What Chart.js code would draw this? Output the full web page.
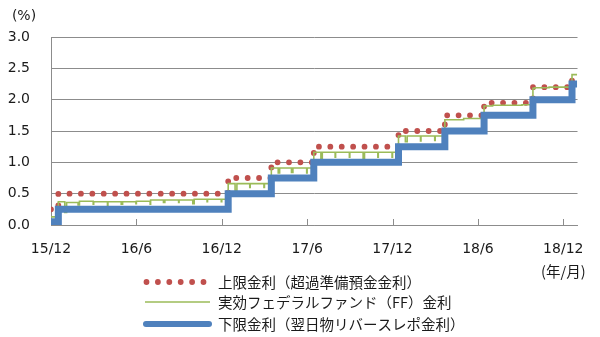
<!DOCTYPE html>
<html>
<head>
<meta charset="utf-8">
<script src="https://cdn.jsdelivr.net/npm/chart.js@4.4.1/dist/chart.umd.min.js"></script>
<style>
  html, body { margin: 0; padding: 0; background: #ffffff; }
  #c { display: block; }
</style>
</head>
<body>
<canvas id="c" width="600" height="337"></canvas>
<script>
// Axis ticks: months counted from 2015-12-01
const tickMonths = [0, 6, 12, 18, 24, 30, 36];
const tickLabels = ['15/12', '16/6', '16/12', '17/6', '17/12', '18/6', '18/12'];
const yUnitLabel = '(%)';
const xUnitLabel = '(年/月)';

const seriesNames = [
  '上限金利（超過準備預金金利）',
  '実効フェデラルファンド（FF）金利',
  '下限金利（翌日物リバースレポ金利）'
];

// Upper bound: interest on excess reserves (change dates and new levels)
const upperDates  = ['2015-12-01', '2015-12-17', '2016-12-15', '2017-03-16', '2017-06-15',
                     '2017-12-14', '2018-03-22', '2018-06-14', '2018-09-27', '2018-12-20', '2018-12-31'];
const upperValues = [0.25, 0.50, 0.75, 1.00, 1.25, 1.50, 1.75, 1.95, 2.20, 2.40, 2.40];

// Lower bound: overnight reverse repo rate
const lowerDates  = ['2015-12-01', '2015-12-17', '2016-12-15', '2017-03-16', '2017-06-15',
                     '2017-12-14', '2018-03-22', '2018-06-14', '2018-09-27', '2018-12-20', '2018-12-31'];
const lowerValues = [0.05, 0.25, 0.50, 0.75, 1.00, 1.25, 1.50, 1.75, 2.00, 2.25, 2.25];

// Effective federal funds rate, including the month-end dips
const effrDates = [
  '2015-12-01', '2015-12-17', '2015-12-31', '2016-01-04', '2016-01-29', '2016-02-01', '2016-02-29',
  '2016-03-01', '2016-03-31', '2016-04-01', '2016-04-29', '2016-05-02', '2016-05-31', '2016-06-01',
  '2016-06-30', '2016-07-01', '2016-07-29', '2016-08-01', '2016-08-31', '2016-09-01', '2016-09-30',
  '2016-10-03', '2016-10-31', '2016-11-01', '2016-11-30', '2016-12-01', '2016-12-15', '2016-12-30',
  '2017-01-03', '2017-01-31', '2017-02-01', '2017-02-28', '2017-03-01', '2017-03-16', '2017-03-31',
  '2017-04-03', '2017-04-28', '2017-05-01', '2017-05-31', '2017-06-01', '2017-06-15', '2017-06-30',
  '2017-07-03', '2017-07-31', '2017-08-01', '2017-08-31', '2017-09-01', '2017-09-29', '2017-10-02',
  '2017-10-31', '2017-11-01', '2017-11-30', '2017-12-01', '2017-12-14', '2017-12-29', '2018-01-02',
  '2018-01-31', '2018-02-01', '2018-02-28', '2018-03-01', '2018-03-22', '2018-05-01', '2018-06-14',
  '2018-07-02', '2018-09-04', '2018-09-27', '2018-10-01', '2018-11-01', '2018-12-20', '2018-12-31'
];
const effrValues = [
  0.13, 0.37, 0.20, 0.36, 0.32, 0.38, 0.33,
  0.37, 0.31, 0.37, 0.33, 0.37, 0.34, 0.38,
  0.33, 0.40, 0.36, 0.40, 0.36, 0.40, 0.34,
  0.41, 0.37, 0.41, 0.37, 0.41, 0.66, 0.55,
  0.66, 0.60, 0.66, 0.60, 0.66, 0.91, 0.83,
  0.91, 0.84, 0.91, 0.83, 0.91, 1.16, 1.06,
  1.16, 1.08, 1.16, 1.08, 1.16, 1.06, 1.16,
  1.08, 1.16, 1.08, 1.16, 1.42, 1.33, 1.42,
  1.34, 1.42, 1.35, 1.42, 1.68, 1.70, 1.90,
  1.91, 1.92, 2.18, 2.19, 2.20, 2.40, 2.40
];

// Convert 'YYYY-MM-DD' into fractional months since 2015-12-01
function toMonths(s) {
  const [y, m, d] = s.split('-').map(Number);
  const dim = new Date(y, m, 0).getDate();
  return (y - 2015) * 12 + (m - 12) + (d - 1) / dim;
}
function toPoints(dates, values) {
  return dates.map((d, i) => ({ x: toMonths(d), y: values[i] }));
}

const RED = '#C0504D', GREEN = '#9BBB59', BLUE = '#4F81BD', GRID = '#8C8C8C', TEXT = '#1a1a1a';
const NUM_FONT = '"DejaVu Sans", Verdana, sans-serif';
const JP_FONT = '"Noto Sans CJK JP", sans-serif';

const decor = {
  id: 'decor',
  beforeDatasetsDraw(chart) {
    // inward tick marks on the date axis
    const { ctx, chartArea } = chart;
    const xs = chart.scales.x;
    ctx.save();
    ctx.strokeStyle = GRID;
    ctx.lineWidth = 1;
    tickMonths.forEach(v => {
      const px = Math.round(xs.getPixelForValue(v)) + 0.5;
      ctx.beginPath();
      ctx.moveTo(px, chartArea.bottom - 6);
      ctx.lineTo(px, chartArea.bottom);
      ctx.stroke();
    });
    ctx.restore();
  },
  afterDraw(chart) {
    const { ctx } = chart;
    const xs = chart.scales.x;
    ctx.save();
    ctx.fillStyle = TEXT;
    ctx.textBaseline = 'middle';
    ctx.textAlign = 'center';
    ctx.font = '14px ' + NUM_FONT;
    ctx.fillText(yUnitLabel, 24, 16);
    ctx.font = '14.5px ' + JP_FONT;
    ctx.fillText(xUnitLabel, xs.getPixelForValue(36), 271);

    // legend, one series per row
    const rows = [282, 302, 324];
    chart.data.datasets.forEach((ds, i) => {
      const y = rows[i];
      ctx.save();
      ctx.strokeStyle = ds.borderColor;
      ctx.lineWidth = ds.legendWidth;
      ctx.lineCap = ds.legendCap;
      ctx.setLineDash(ds.borderDash || []);
      ctx.beginPath();
      ctx.moveTo(ds.legendFrom, y);
      ctx.lineTo(ds.legendTo, y);
      ctx.stroke();
      ctx.restore();
      ctx.textAlign = 'left';
      ctx.font = '14.5px ' + JP_FONT;
      ctx.fillText(ds.label, 218, y);
    });
    ctx.restore();
  }
};

new Chart(document.getElementById('c'), {
  type: 'line',
  data: {
    datasets: [
      {
        label: seriesNames[0],
        data: toPoints(upperDates, upperValues),
        borderColor: RED,
        borderWidth: 5.8,
        borderDash: [0, 11.4],
        borderCapStyle: 'round',
        borderJoinStyle: 'round',
        stepped: true,
        pointRadius: 0,
        order: 3,
        legendWidth: 5.8, legendCap: 'round', legendFrom: 146.5, legendTo: 207
      },
      {
        label: seriesNames[1],
        data: toPoints(effrDates, effrValues),
        borderColor: GREEN,
        borderWidth: 1.6,
        stepped: true,
        pointRadius: 0,
        order: 2,
        legendWidth: 1.6, legendCap: 'butt', legendFrom: 145, legendTo: 210
      },
      {
        label: seriesNames[2],
        data: toPoints(lowerDates, lowerValues),
        borderColor: BLUE,
        borderWidth: 7,
        borderCapStyle: 'butt',
        borderJoinStyle: 'miter',
        stepped: true,
        pointRadius: 0,
        order: 1,
        legendWidth: 6, legendCap: 'round', legendFrom: 146, legendTo: 209
      }
    ]
  },
  options: {
    responsive: false,
    animation: false,
    devicePixelRatio: 1,
    layout: { padding: { top: 37, right: 20, bottom: 0, left: 0 } },
    plugins: { legend: { display: false }, tooltip: { enabled: false } },
    scales: {
      x: {
        type: 'linear',
        min: 0,
        max: 37,
        afterFit(s) { s.height = 112; },
        afterBuildTicks(s) { s.ticks = tickMonths.map(v => ({ value: v })); },
        grid: { display: false, drawTicks: false },
        border: { display: true, color: GRID, width: 1 },
        ticks: {
          autoSkip: false,
          maxRotation: 0,
          padding: 16,
          color: TEXT,
          font: { family: NUM_FONT, size: 14 },
          callback(v, i) { return tickLabels[i]; }
        }
      },
      y: {
        min: 0,
        max: 3,
        afterFit(s) { s.width = 51; },
        grid: { color: GRID, lineWidth: 1, drawTicks: false },
        border: { display: true, color: GRID, width: 1 },
        ticks: {
          stepSize: 0.5,
          padding: 21,
          color: TEXT,
          font: { family: NUM_FONT, size: 14 },
          callback(v) { return v.toFixed(1); }
        }
      }
    }
  },
  plugins: [decor]
});
</script>
</body>
</html>
